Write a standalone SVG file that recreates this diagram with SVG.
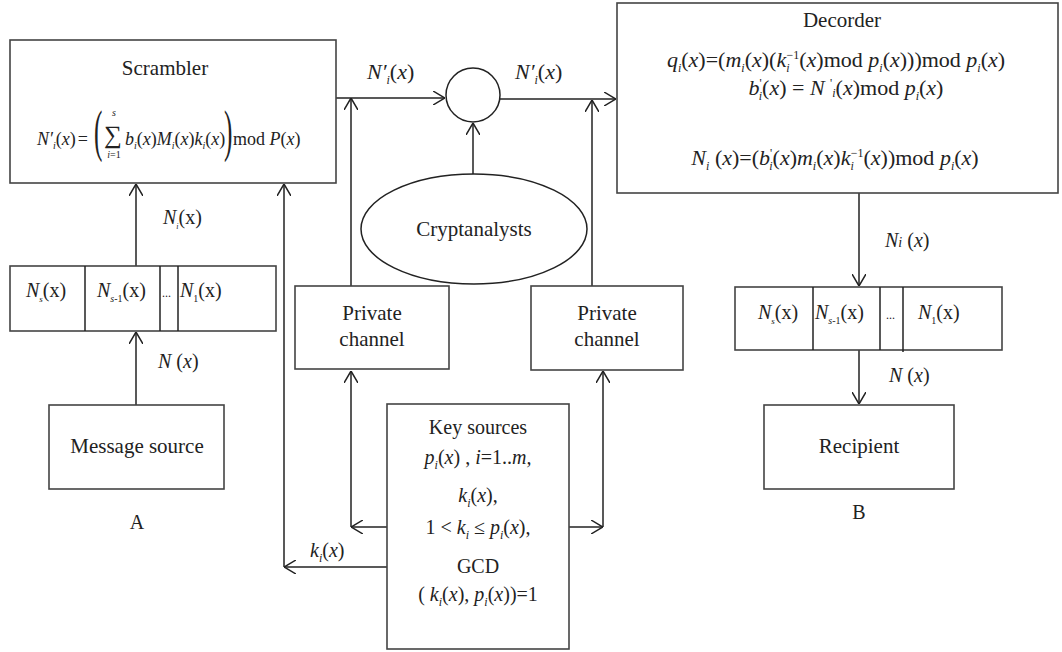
<svg xmlns="http://www.w3.org/2000/svg" width="1062" height="652" viewBox="0 0 1062 652">
<defs>
<style>
text{font-family:"Liberation Serif","Times New Roman",serif;fill:#222;}
.t{font-size:21px;}
.m{font-size:20px;}
.it{font-style:italic;}
.sub{font-size:12px;font-style:italic;}
.box{fill:#fff;stroke:#444;stroke-width:1.6;}
.ln{fill:none;stroke:#222;stroke-width:1.5;}
</style>
<marker id="ah" viewBox="0 0 12 14" refX="12" refY="7" markerWidth="12" markerHeight="14" markerUnits="userSpaceOnUse" orient="auto">
<path d="M0,0 L12,7 L0,14" fill="none" stroke="#222" stroke-width="1.5"/>
</marker>
</defs>
<rect width="1062" height="652" fill="#fff"/>

<g id="connectors">
<line class="ln" x1="136" y1="405" x2="136" y2="332" marker-end="url(#ah)"/>
<line class="ln" x1="136" y1="266" x2="136" y2="184" marker-end="url(#ah)"/>
<line class="ln" x1="336" y1="98" x2="445" y2="98" marker-end="url(#ah)"/>
<line class="ln" x1="500" y1="99" x2="616" y2="99" marker-end="url(#ah)"/>
<line class="ln" x1="351" y1="286" x2="351" y2="98" marker-end="url(#ah)"/>
<line class="ln" x1="592" y1="286" x2="592" y2="100" marker-end="url(#ah)"/>
<line class="ln" x1="473" y1="174" x2="473" y2="123" marker-end="url(#ah)"/>
<line class="ln" x1="387" y1="527" x2="351" y2="527" marker-end="url(#ah)"/>
<line class="ln" x1="351" y1="527" x2="351" y2="371" marker-end="url(#ah)"/>
<line class="ln" x1="569" y1="527" x2="603" y2="527" marker-end="url(#ah)"/>
<line class="ln" x1="603" y1="527" x2="603" y2="371" marker-end="url(#ah)"/>
<line class="ln" x1="387" y1="567" x2="284" y2="567" marker-end="url(#ah)"/>
<line class="ln" x1="284" y1="567" x2="284" y2="184" marker-end="url(#ah)"/>
<line class="ln" x1="859" y1="193" x2="859" y2="286" marker-end="url(#ah)"/>
<line class="ln" x1="859" y1="350" x2="859" y2="404" marker-end="url(#ah)"/>
</g>

<g id="labels">
<text x="367" y="79" style="font-size:22px"><tspan class="it">N</tspan><tspan class="it">′</tspan><tspan class="sub" baseline-shift="-5">i</tspan>(<tspan class="it">x</tspan>)</text>
<text x="515" y="79" style="font-size:22px"><tspan class="it">N</tspan><tspan class="it">′</tspan><tspan class="sub" baseline-shift="-5">i</tspan>(<tspan class="it">x</tspan>)</text>
<text x="163" y="224" class="m"><tspan class="it">N</tspan><tspan class="sub" style="font-size:8px" baseline-shift="-5">i</tspan>(x)</text>
<text x="158" y="368" class="m"><tspan class="it">N</tspan> (<tspan class="it">x</tspan>)</text>
<text x="310" y="557" class="m"><tspan class="it">k</tspan><tspan class="sub" baseline-shift="-5">i</tspan>(<tspan class="it">x</tspan>)</text>
<text x="885" y="247" class="m"><tspan class="it">N</tspan><tspan class="it" style="font-size:14px">i</tspan> (<tspan class="it">x</tspan>)</text>
<text x="889" y="382" class="m"><tspan class="it">N</tspan> (<tspan class="it">x</tspan>)</text>
<text x="137" y="529" class="m" text-anchor="middle">A</text>
<text x="859" y="519" class="m" text-anchor="middle">B</text>
</g>

<g id="scrambler">
<rect class="box" x="10" y="40" width="326" height="143"/>
<text x="165" y="75" class="t" text-anchor="middle">Scrambler</text>
<text x="37" y="145" style="font-size:18px"><tspan class="it">N</tspan><tspan class="it">′</tspan><tspan class="sub" baseline-shift="-4" style="font-size:10px">i</tspan>(<tspan class="it">x</tspan>)<tspan dx="2">=</tspan></text>
<text transform="translate(94,150) scale(0.45,1)" style="font-size:56px">(</text>
<text x="104" y="143" style="font-size:25px">∑</text>
<text x="114" y="116" class="sub" style="font-size:10px" text-anchor="middle">s</text>
<text x="114" y="158" style="font-size:10px" text-anchor="middle"><tspan class="it">i</tspan>=1</text>
<text x="125" y="145" style="font-size:18px"><tspan class="it">b</tspan><tspan class="sub" style="font-size:10px" baseline-shift="-4">i</tspan>(<tspan class="it">x</tspan>)<tspan class="it">M</tspan><tspan class="sub" style="font-size:10px" baseline-shift="-4">i</tspan>(<tspan class="it">x</tspan>)<tspan class="it">k</tspan><tspan class="sub" style="font-size:10px" baseline-shift="-4">i</tspan>(<tspan class="it">x</tspan>)</text>
<text transform="translate(224,150) scale(0.45,1)" style="font-size:56px">)</text>
<text x="233" y="145" style="font-size:18px">mod <tspan class="it">P</tspan>(<tspan class="it">x</tspan>)</text>
</g>

<g id="decoder">
<rect class="box" x="617" y="3" width="441" height="190"/>
<text x="842" y="27" class="t" text-anchor="middle">Decorder</text>
<text x="836" y="67" style="font-size:22px" text-anchor="middle"><tspan class="it">q</tspan><tspan class="sub" baseline-shift="-5">i</tspan>(<tspan class="it">x</tspan>)=(<tspan class="it">m</tspan><tspan class="sub" baseline-shift="-5">i</tspan>(<tspan class="it">x</tspan>)(<tspan class="it">k</tspan><tspan class="sub" baseline-shift="-5">i</tspan><tspan style="font-size:12px" dx="-3" baseline-shift="8">−1</tspan>(<tspan class="it">x</tspan>)mod <tspan class="it">p</tspan><tspan class="sub" baseline-shift="-5">i</tspan>(<tspan class="it">x</tspan>)))mod <tspan class="it">p</tspan><tspan class="sub" baseline-shift="-5">i</tspan>(<tspan class="it">x</tspan>)</text>
<text x="846" y="95" style="font-size:22px" text-anchor="middle"><tspan class="it">b</tspan><tspan style="font-size:12px" baseline-shift="8">'</tspan><tspan class="sub" dx="-3" baseline-shift="-5">i</tspan>(<tspan class="it">x</tspan>) = <tspan class="it">N</tspan> <tspan style="font-size:12px" baseline-shift="8">'</tspan><tspan class="sub" baseline-shift="-2">i</tspan>(<tspan class="it">x</tspan>)mod <tspan class="it">p</tspan><tspan class="sub" baseline-shift="-5">i</tspan>(<tspan class="it">x</tspan>)</text>
<text x="835" y="165" style="font-size:22px" text-anchor="middle"><tspan class="it">N</tspan><tspan class="sub" baseline-shift="-5">i</tspan> (<tspan class="it">x</tspan>)=(<tspan class="it">b</tspan><tspan style="font-size:12px" baseline-shift="8">'</tspan><tspan class="sub" dx="-3" baseline-shift="-5">i</tspan>(<tspan class="it">x</tspan>)<tspan class="it">m</tspan><tspan class="sub" baseline-shift="-5">i</tspan>(<tspan class="it">x</tspan>)<tspan class="it">k</tspan><tspan class="sub" baseline-shift="-5">i</tspan><tspan style="font-size:12px" dx="-3" baseline-shift="8">−1</tspan>(<tspan class="it">x</tspan>))mod <tspan class="it">p</tspan><tspan class="sub" baseline-shift="-5">i</tspan>(<tspan class="it">x</tspan>)</text>
</g>

<g id="mixer">
<circle cx="473" cy="95" r="27" fill="#fff" stroke="#222" stroke-width="1.5"/>
</g>

<g id="cryptanalysts">
<ellipse cx="474" cy="229" rx="113" ry="55" fill="#fff" stroke="#222" stroke-width="1.5"/>
<text x="474" y="236" class="t" text-anchor="middle">Cryptanalysts</text>
</g>

<g id="private-channel-left">
<rect class="box" x="295" y="286" width="154" height="83"/>
<text x="372" y="320" class="t" text-anchor="middle">Private</text>
<text x="372" y="346" class="t" text-anchor="middle">channel</text>
</g>

<g id="private-channel-right">
<rect class="box" x="531" y="286" width="152" height="84"/>
<text x="607" y="320" class="t" text-anchor="middle">Private</text>
<text x="607" y="346" class="t" text-anchor="middle">channel</text>
</g>

<g id="block-left">
<rect class="box" x="10" y="266" width="266" height="65"/>
<line class="ln" x1="85" y1="266" x2="85" y2="331"/>
<line class="ln" x1="160" y1="266" x2="160" y2="331"/>
<line class="ln" x1="178" y1="266" x2="178" y2="331"/>
<text x="26" y="297" class="m"><tspan class="it">N</tspan><tspan class="sub" style="font-size:9px" baseline-shift="-5">s</tspan>(x)</text>
<text x="97" y="297" class="m"><tspan class="it">N</tspan><tspan style="font-size:10px" baseline-shift="-5"><tspan class="it">s</tspan>-1</tspan>(x)</text>
<text x="162" y="297" style="font-size:12px">...</text>
<text x="180" y="297" class="m"><tspan class="it">N</tspan><tspan style="font-size:10px" baseline-shift="-5">1</tspan>(x)</text>
</g>

<g id="block-right">
<rect class="box" x="735" y="287" width="267" height="63"/>
<line class="ln" x1="813" y1="287" x2="813" y2="350"/>
<line class="ln" x1="880" y1="287" x2="880" y2="350"/>
<line class="ln" x1="903" y1="287" x2="903" y2="352"/>
<text x="758" y="319" class="m"><tspan class="it">N</tspan><tspan class="sub" style="font-size:9px" baseline-shift="-5">s</tspan>(x)</text>
<text x="815" y="319" class="m"><tspan class="it">N</tspan><tspan style="font-size:10px" baseline-shift="-5"><tspan class="it">s</tspan>-1</tspan>(x)</text>
<text x="886" y="319" style="font-size:12px">...</text>
<text x="918" y="319" class="m"><tspan class="it">N</tspan><tspan style="font-size:10px" baseline-shift="-5">1</tspan>(x)</text>
</g>

<g id="message-source">
<rect class="box" x="49" y="405" width="175" height="84"/>
<text x="137" y="453" class="t" text-anchor="middle">Message source</text>
</g>

<g id="recipient">
<rect class="box" x="764" y="405" width="190" height="84"/>
<text x="859" y="453" class="t" text-anchor="middle">Recipient</text>
</g>

<g id="key-sources">
<rect class="box" x="387" y="404" width="182" height="245"/>
<text x="478" y="434" class="m" text-anchor="middle">Key sources</text>
<text x="478" y="464" class="m" text-anchor="middle"><tspan class="it">p</tspan><tspan class="sub" baseline-shift="-5">i</tspan>(<tspan class="it">x</tspan>)  , <tspan class="it">i</tspan>=1..<tspan class="it">m</tspan><tspan class="it">,</tspan></text>
<text x="478" y="502" class="m" text-anchor="middle"><tspan class="it">k</tspan><tspan class="sub" baseline-shift="-5">i</tspan>(<tspan class="it">x</tspan>),</text>
<text x="478" y="534" class="m" text-anchor="middle">1 &lt; <tspan class="it">k</tspan><tspan class="sub" baseline-shift="-5">i</tspan> ≤ <tspan class="it">p</tspan><tspan class="sub" baseline-shift="-5">i</tspan>(<tspan class="it">x</tspan>),</text>
<text x="478" y="573" class="m" text-anchor="middle">GCD</text>
<text x="478" y="601" class="m" text-anchor="middle">( <tspan class="it">k</tspan><tspan class="sub" baseline-shift="-5">i</tspan>(<tspan class="it">x</tspan>), <tspan class="it">p</tspan><tspan class="sub" baseline-shift="-5">i</tspan>(<tspan class="it">x</tspan>))=1</text>
</g>
</svg>
